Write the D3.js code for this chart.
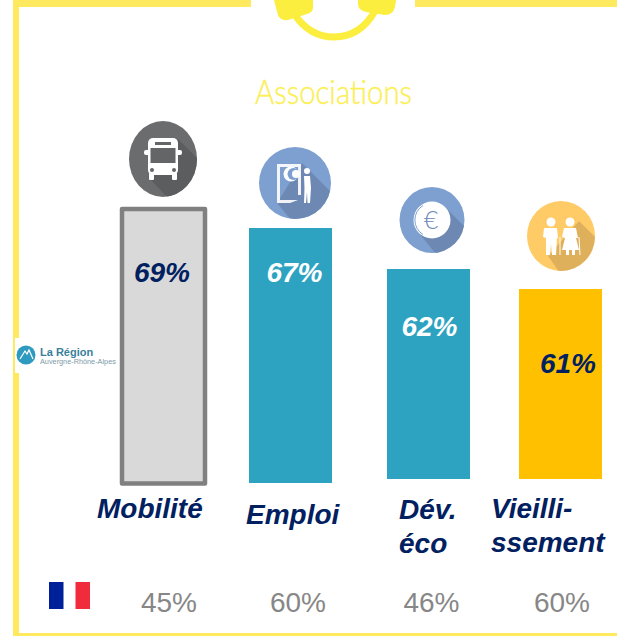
<!DOCTYPE html>
<html>
<head>
<meta charset="utf-8">
<script src="https://cdn.jsdelivr.net/npm/d3@7"></script>
<style>
html, body { margin: 0; padding: 0; background: #fff; }
svg { display: block; }
text { font-family: "Liberation Sans", Arial, sans-serif; }
</style>
</head>
<body>
<svg id="chart" width="617" height="636"></svg>
<script>
const categories = ["Mobilité", "Emploi", "Dév. éco", "Vieillissement"];
const regionValues = [69, 67, 62, 61];
const franceValues = [45, 60, 46, 60];
const categoryLines = [["Mobilité"], ["Emploi"], ["Dév.", "éco"], ["Vieilli-", "ssement"]];

const navy = "#002060";
const frameYellow = "#ffe95f";
const titleYellow = "#fbef55";

const svg = d3.select("#chart");

// the bars are separate shapes on the slide, so x and baseline are not regular
const barWidth = 83;
const x = d3.scaleOrdinal().domain(categories).range([122, 249, 387, 519]);
const base = d3.scaleOrdinal().domain(categories).range([483.5, 483, 479, 479]);
const y = d3.scaleLinear().domain([61, 62, 67, 69]).range([289, 269, 228, 209]);

//////// Frame ///////////////

const frame = svg.append("g").attr("fill", frameYellow);
frame.append("rect").attr("x", 13).attr("y", 0).attr("width", 6).attr("height", 636);
frame.append("rect").attr("x", 13).attr("y", 633).attr("width", 604).attr("height", 3);
frame.append("rect").attr("x", 13).attr("y", 0).attr("width", 238).attr("height", 7);
frame.append("rect").attr("x", 415).attr("y", 0).attr("width", 202).attr("height", 7);

// headset on the top edge
const headset = svg.append("g").attr("fill", "#fcee3e");
headset.append("path")
    .attr("d", "M295,15 Q310,37 334,37 Q360,37 375,11")
    .attr("fill", "none").attr("stroke", "#fcee3e").attr("stroke-width", 7);
headset.append("path").attr("d", "M274,0 L313,0 L313,8 Q313,12 307,14 L288,20 Q280,21 278,15 Z");
headset.append("path").attr("d", "M358,0 L396,0 L395,7 Q393,15 385,15 L366,12 Q358,10 358,4 Z");

svg.append("text")
    .attr("x", 255).attr("y", 104)
    .attr("textLength", 157)
    .attr("lengthAdjust", "spacingAndGlyphs")
    .attr("fill", titleYellow)
    .attr("stroke", titleYellow)
    .attr("stroke-width", 0.4)
    .style("font-family", "Lato")
    .style("font-weight", 300)
    .style("font-size", "33px")
    .text("Associations");

//////// Bars ///////////////

const barFill = ["#d9d9d9", "#2da3c1", "#2da3c1", "#ffc000"];
svg.append("g").selectAll("rect")
    .data(categories)
    .join("rect")
    .attr("x", (d) => x(d))
    .attr("y", (d, i) => y(regionValues[i]))
    .attr("width", barWidth)
    .attr("height", (d, i) => base(d) - y(regionValues[i]))
    .attr("fill", (d, i) => barFill[i])
    .attr("stroke", (d, i) => i == 0 ? "#808080" : "none")
    .attr("stroke-width", 4.5)
    .attr("stroke-linejoin", "round");

const labelX = [162, 294.5, 429.5, 568];
const labelY = [282, 282, 336, 373];
const labelFill = [navy, "#fff", "#fff", navy];
svg.append("g").selectAll("text")
    .data(regionValues)
    .join("text")
    .attr("x", (d, i) => labelX[i])
    .attr("y", (d, i) => labelY[i])
    .attr("text-anchor", "middle")
    .attr("fill", (d, i) => labelFill[i])
    .style("font-size", "28px")
    .style("font-weight", "bold")
    .style("font-style", "italic")
    .text((d) => d + "%");

//////// Category names ///////////////

const catX = [97, 246, 399, 491];
const catY = [518, 524, 519, 518];
categoryLines.forEach((lines, i) => {
    lines.forEach((line, j) => {
        svg.append("text")
            .attr("x", catX[i])
            .attr("y", catY[i] + j * 34)
            .attr("fill", navy)
            .style("font-size", "28px")
            .style("font-weight", "bold")
            .style("font-style", "italic")
            .text(line);
    });
});

//////// France row ///////////////

const franceX = [169, 298, 431.5, 562];
svg.append("g").selectAll("text")
    .data(franceValues)
    .join("text")
    .attr("x", (d, i) => franceX[i])
    .attr("y", 612)
    .attr("text-anchor", "middle")
    .attr("fill", "#878787")
    .style("font-size", "28px")
    .text((d) => d + "%");

const flag = svg.append("g");
flag.append("rect").attr("x", 49).attr("y", 582).attr("width", 14.5).attr("height", 27).attr("fill", "#00209a");
flag.append("rect").attr("x", 75.5).attr("y", 582).attr("width", 14.5).attr("height", 27).attr("fill", "#ef2b3c");

//////// Region logo ///////////////

const logo = svg.append("g");
logo.append("rect").attr("x", 15).attr("y", 338).attr("width", 102).attr("height", 35).attr("fill", "#fff");
logo.append("circle").attr("cx", 26).attr("cy", 355).attr("r", 9.5).attr("fill", "#2f9ac0");
logo.append("path")
    .attr("d", "M20,359 L25,351 L27,354 L29,350 L33,359")
    .attr("fill", "none").attr("stroke", "#fff").attr("stroke-width", 1.2);
logo.append("text").attr("x", 40).attr("y", 356).attr("fill", "#3a7f9c")
    .style("font-size", "11px").style("font-weight", "bold").text("La Région");
logo.append("text").attr("x", 40).attr("y", 364).attr("fill", "#7c9aa8")
    .style("font-size", "7.3px").text("Auvergne-Rhône-Alpes");

//////// Round icons ///////////////

function iconBase(id, cx, cy, rx, ry, fill, shadowFill, shadowPts) {
    svg.append("clipPath").attr("id", id)
        .append("ellipse").attr("cx", 0).attr("cy", 0).attr("rx", rx).attr("ry", ry);
    const g = svg.append("g").attr("transform", "translate(" + cx + "," + cy + ")");
    g.append("ellipse").attr("rx", rx).attr("ry", ry).attr("fill", fill);
    g.append("polygon").attr("points", shadowPts).attr("fill", shadowFill)
        .attr("clip-path", "url(#" + id + ")");
    return g;
}

// bus
const bus = iconBase("clipBus", 163, 159, 34, 38, "#6b6c6e", "#5c5d5f",
    "15,-20 60,25 60,60 25,60 -15,18");
bus.append("rect").attr("x", -15).attr("y", -21).attr("width", 30).attr("height", 37).attr("rx", 5).attr("fill", "#fff");
bus.append("rect").attr("x", -19).attr("y", -9).attr("width", 38).attr("height", 5).attr("rx", 2).attr("fill", "#fff");
bus.append("rect").attr("x", -12.5).attr("y", -11).attr("width", 25).attr("height", 15).attr("fill", "#646567");
bus.append("rect").attr("x", -8).attr("y", -17).attr("width", 16).attr("height", 3).attr("fill", "#646567");
bus.append("rect").attr("x", -14).attr("y", 14).attr("width", 5).attr("height", 7).attr("rx", 1).attr("fill", "#fff");
bus.append("rect").attr("x", 9).attr("y", 14).attr("width", 5).attr("height", 7).attr("rx", 1).attr("fill", "#fff");
bus.selectAll("circle").data([-11, 11]).join("circle")
    .attr("cx", (d) => d).attr("cy", 11).attr("r", 2).attr("fill", "#646567");

// door with the euro and a person
const door = iconBase("clipDoor", 295, 183, 36, 36, "#7da0d0", "#6d89b3",
    "7,-20 60,33 60,60 15,60 -18,20");
door.append("path")
    .attr("d", "M-18,-19 L6,-19 L6,12 L3,12 L3,-16 L-15,-16 L-15,17 L3,17 L-5,20 L-18,20 Z")
    .attr("fill", "#fff").attr("fill-opacity", 0.9);
door.append("circle").attr("cx", -4).attr("cy", -9).attr("r", 7.5).attr("fill", "#fff");
door.append("circle").attr("cx", -1.5).attr("cy", -9).attr("r", 6).attr("fill", "#7da0d0");
door.append("circle").attr("cx", 1).attr("cy", -9).attr("r", 4).attr("fill", "#fff");
door.append("circle").attr("cx", 12).attr("cy", -12).attr("r", 3).attr("fill", "#fff");
door.append("path").attr("d", "M9,-7 L15,-7 L16,5 L15,20 L12.5,20 L12,9 L11,20 L9,20 L9.5,5 Z").attr("fill", "#fff");

// euro coin
const euro = iconBase("clipEuro", 432, 220, 32.5, 33, "#7da0d0", "#6d89b3",
    "13,-13 60,34 60,60 25,60 -13,13");
euro.append("circle").attr("cx", 0).attr("cy", 0).attr("r", 18.5).attr("fill", "#fff");
euro.append("path").attr("d", "M-9,-14.5 A17,17 0 0 0 -9,14.5")
    .attr("fill", "none").attr("stroke", "#7da0d0").attr("stroke-width", 1);
euro.append("text").attr("x", -1).attr("y", 9).attr("text-anchor", "middle")
    .attr("fill", "#6d89b3")
    .style("font-family", "Lato").style("font-weight", 300)
    .style("font-size", "25px").text("€");

// elderly couple
const couple = iconBase("clipCouple", 561, 236, 34, 35, "#ffcb66", "#dfb05c",
    "18,-15 60,27 60,60 15,60 -13,20");
couple.append("circle").attr("cx", -10).attr("cy", -14).attr("r", 4.5).attr("fill", "#fff");
couple.append("circle").attr("cx", 9).attr("cy", -14).attr("r", 4.5).attr("fill", "#fff");
couple.append("path").attr("d", "M-17,-8 L-4,-8 L-3,2 L-4,2 L-5,19 L-9,19 L-10,8 L-11,19 L-15,19 L-15,2 L-18,1 Z").attr("fill", "#fff");
couple.append("path").attr("d", "M3,-8 L15,-8 L17,2 L15,2 L18,14 L14,14 L14,19 L11,19 L11,14 L8,14 L8,19 L5,19 L5,14 L1,14 L4,2 L1,1 Z").attr("fill", "#fff");
couple.append("line").attr("x1", -1).attr("y1", 1).attr("x2", -1).attr("y2", 19).attr("stroke", "#fff").attr("stroke-width", 1);
couple.append("line").attr("x1", 18).attr("y1", 1).attr("x2", 19).attr("y2", 19).attr("stroke", "#fff").attr("stroke-width", 1);
</script>
</body>
</html>
